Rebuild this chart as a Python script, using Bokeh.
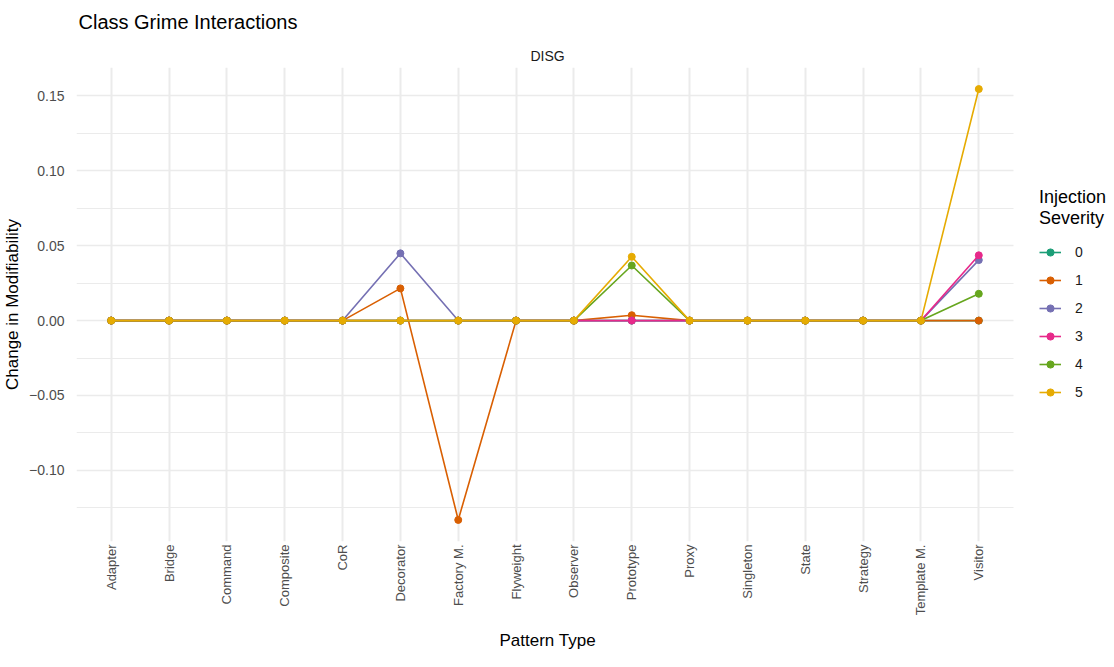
from bokeh.plotting import figure
from bokeh.models import (Range1d, FixedTicker, Legend, LegendItem, Title, Grid)
from bokeh.embed import file_html
from bokeh.resources import INLINE
import math

patterns = ["Adapter", "Bridge", "Command", "Composite", "CoR", "Decorator",
            "Factory M.", "Flyweight", "Observer", "Prototype", "Proxy",
            "Singleton", "State", "Strategy", "Template M.", "Visitor"]

severities = ["0", "1", "2", "3", "4", "5"]

sev0 = [0, 0, 0, 0, 0, 0, 0, 0, 0, 0, 0, 0, 0, 0, 0, 0]
sev1 = [0, 0, 0, 0, 0, 0.0215, -0.1331, 0, 0, 0.0036, 0, 0, 0, 0, 0, 0]
sev2 = [0, 0, 0, 0, 0, 0.0449, 0, 0, 0, 0, 0, 0, 0, 0, 0, 0.0404]
sev3 = [0, 0, 0, 0, 0, 0, 0, 0, 0, 0, 0, 0, 0, 0, 0, 0.0436]
sev4 = [0, 0, 0, 0, 0, 0, 0, 0, 0, 0.0368, 0, 0, 0, 0, 0, 0.0179]
sev5 = [0, 0, 0, 0, 0, 0, 0, 0, 0, 0.0426, 0, 0, 0, 0, 0, 0.1546]

y_ticks = [-0.10, -0.05, 0.00, 0.05, 0.10, 0.15]
y_tick_labels = ["\u22120.10", "\u22120.05", "0.00", "0.05", "0.10", "0.15"]
y_minor = [-0.125, -0.075, -0.025, 0.025, 0.075, 0.125]

colors = ["#1B9E77", "#D95F02", "#7570B3", "#E7298A", "#66A61E", "#E6AB02"]
series = [sev0, sev1, sev2, sev3, sev4, sev5]

FONT = "Liberation Sans"

# category positions (1..N) on a numeric scale, labelled with the pattern names
xpos = list(range(1, len(patterns) + 1))
x_lo, x_hi = 0.4, len(patterns) + 0.6

W, H = 1106, 659
LEFT, PANEL_W = 69, 937
# the frame runs to the right edge so the legend can sit beside the panel area
x_end = x_lo + (x_hi - x_lo) * (W - LEFT - 7) / PANEL_W

p = figure(width=W, height=H, output_backend="svg", toolbar_location=None,
           x_range=Range1d(x_lo, x_end),
           y_range=Range1d(-0.1475, 0.169),
           min_border_left=LEFT, min_border_top=59, min_border_right=0,
           min_border_bottom=0)

p.add_layout(Title(text="DISG", align="left", text_font=FONT,
                   text_font_size="14px", text_font_style="normal",
                   text_color="#1A1A1A", offset=454, standoff=8), "above")
p.title.text = "Class Grime Interactions"
p.title.text_font = FONT
p.title.text_font_size = "20px"
p.title.text_font_style = "normal"
p.title.text_color = "#000000"
p.title.offset = 2
p.title.standoff = 17

p.outline_line_color = None
p.background_fill_color = "white"
p.border_fill_color = "white"

for ax in (p.xaxis, p.yaxis):
    ax.axis_line_color = None
    ax.major_tick_line_color = None
    ax.minor_tick_line_color = None
    ax.major_label_text_font = FONT
    ax.major_label_text_color = "#4D4D4D"
    ax.axis_label_text_font = FONT
    ax.axis_label_text_font_size = "17px"
    ax.axis_label_text_font_style = "normal"
    ax.axis_label_text_color = "#000000"

p.yaxis.major_label_text_font_size = "14px"
p.yaxis.ticker = FixedTicker(ticks=y_ticks, minor_ticks=y_minor)
p.yaxis.major_label_overrides = {t: l for t, l in zip(y_ticks, y_tick_labels)}
p.yaxis.axis_label = "Change in Modifiability"
p.yaxis.major_label_standoff = 6
p.yaxis.axis_label_standoff = 4

p.xaxis.major_label_text_font_size = "13px"
p.xaxis.ticker = FixedTicker(ticks=xpos, minor_ticks=[])
p.xaxis.major_label_overrides = {x: name for x, name in zip(xpos, patterns)}
p.xaxis.major_label_orientation = math.pi / 2
p.xaxis.major_tick_out = 0
p.xaxis.major_tick_in = 0
p.xaxis.major_label_standoff = 3
p.xaxis.axis_label_standoff = 0

# x-axis title centred under the panel (not under the legend area)
p.add_layout(Title(text="Pattern Type", align="left", text_font=FONT,
                   text_font_size="17px", text_font_style="normal",
                   text_color="#000000", offset=423, standoff=20), "below")

p.xgrid.grid_line_color = "#EBEBEB"
p.xgrid.grid_line_width = 2
p.ygrid.grid_line_color = "#EBEBEB"
p.ygrid.grid_line_width = 1.5
p.ygrid.minor_grid_line_color = "#EBEBEB"
p.ygrid.minor_grid_line_width = 1
if "cross_bounds" in Grid.properties():
    p.ygrid.cross_bounds = (x_lo, x_hi)

items = []
for sev, vals, c in zip(severities, series, colors):
    ln = p.line(xpos, vals, line_color=c, line_width=1.6)
    pt = p.scatter(xpos, vals, size=7, fill_color=c, line_color=c)
    items.append(LegendItem(label=sev, renderers=[ln, pt]))

legend = Legend(items=items, title="Injection\nSeverity",
                title_text_font=FONT, title_text_font_size="18px",
                title_text_font_style="normal", title_text_color="#000000",
                label_text_font=FONT, label_text_font_size="14px",
                label_text_color="#1A1A1A", label_standoff=14,
                glyph_width=22, glyph_height=18, label_height=18,
                spacing=10, padding=0, margin=0, border_line_color=None,
                background_fill_alpha=0, location=(PANEL_W + 26, 140),
                title_standoff=14)
p.add_layout(legend, "center")

open("out.html", "w").write(file_html(p, INLINE))
